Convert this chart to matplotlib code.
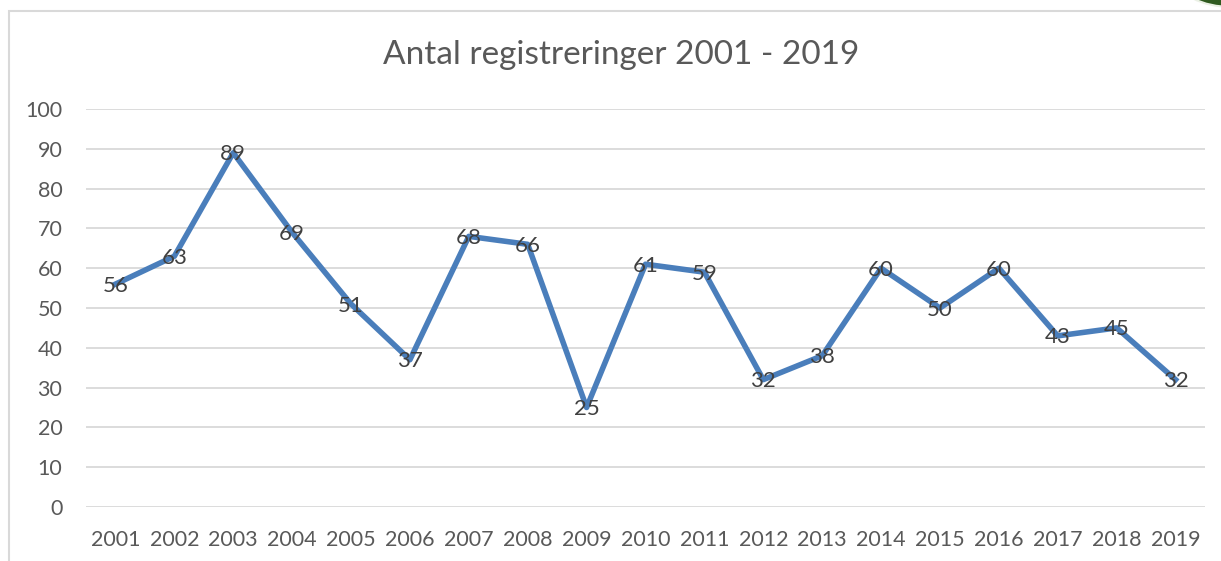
import matplotlib.pyplot as plt
import matplotlib.patches as mpatches
import numpy as np

# data
years = ['2001', '2002', '2003', '2004', '2005', '2006', '2007', '2008', '2009', '2010',
         '2011', '2012', '2013', '2014', '2015', '2016', '2017', '2018', '2019']
counts = [56, 63, 89, 69, 51, 37, 68, 66, 25, 61, 59, 32, 38, 60, 50, 60, 43, 45, 32]
yticks = list(range(0, 101, 10))

plt.rcParams['font.family'] = ['Lato', 'DejaVu Sans']

W, H = 1221, 561
fig = plt.figure(figsize=(W / 100, H / 100), dpi=100)

# chart frame
fig.patches.append(mpatches.Rectangle((9 / W, -0.05), 1.2, 1 - 11 / H + 0.05,
                                      transform=fig.transFigure, fill=False,
                                      edgecolor='#D9D9D9', linewidth=1.5))
# bit of the logo in the corner
fig.patches.append(mpatches.Ellipse((1232 / W, 1 + 22 / H), 110 / W, 58 / H,
                                    transform=fig.transFigure, facecolor='#2F5A1F',
                                    edgecolor='#EAF0E4', linewidth=1.5))

ax = fig.add_axes([86 / W, 1 - 507 / H, (1205 - 86) / W, (507 - 109) / H])
x = np.arange(len(years))
ax.plot(x, counts, color='#4A7EBB', linewidth=4.0, solid_joinstyle='round', zorder=3)

for xi, v in zip(x, counts):
    ax.text(xi, v - 0.4, str(v), ha='center', va='center', fontsize=16,
            color='#404040', zorder=4)

ax.set_xlim(-0.5, len(years) - 0.5)
ax.set_ylim(0, 100)
ax.set_yticks(yticks)
ax.set_xticks(x)
ax.set_xticklabels(years)
ax.grid(axis='y', color='#D9D9D9', linewidth=1.3)
ax.set_axisbelow(True)
for s in ax.spines.values():
    s.set_visible(False)
ax.tick_params(length=0, labelsize=15.5, labelcolor='#595959')
ax.tick_params(axis='y', pad=17)
ax.tick_params(axis='x', pad=16.5)

fig.text(621 / W, 1 - 55 / H, 'Antal registreringer 2001 - 2019', ha='center', va='center',
         fontsize=24, color='#595959')

plt.savefig('out.png', dpi=100)
